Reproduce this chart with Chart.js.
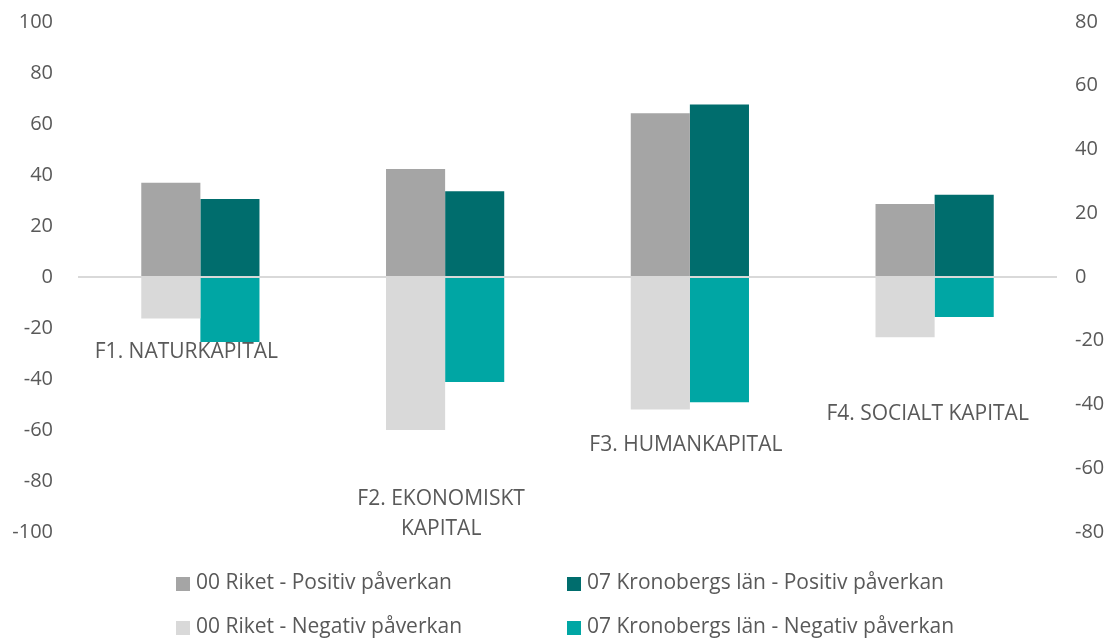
<!DOCTYPE html>
<html>
<head>
<meta charset="utf-8">
<script src="https://cdn.jsdelivr.net/npm/chart.js@4.4.1/dist/chart.umd.min.js"></script>
<style>
  html, body { margin: 0; padding: 0; background: #fff; }
  #wrap { width: 1113px; height: 640px; position: relative; }
</style>
</head>
<body>
<div id="wrap"><canvas id="chart"></canvas></div>
<script>
const categories = ['F1. NATURKAPITAL', 'F2. EKONOMISKT KAPITAL', 'F3. HUMANKAPITAL', 'F4. SOCIALT KAPITAL'];
const riketPositiv = [37.0, 42.4, 64.2, 28.6];
const kronobergPositiv = [30.6, 33.6, 67.6, 32.3];
const riketNegativ = [-16.3, -60.0, -52.0, -23.6];
const kronobergNegativ = [-25.5, -41.2, -49.1, -15.7];
const leftTicks = { min: -100, max: 100, step: 20 };
const rightTicks = { min: -80, max: 80, step: 20 };

const textColor = '#595959';
const fontFamily = '"Open Sans", sans-serif';
const tickSize = 20;
const textSize = 21;

// category text boxes: lines, x offset from category centre (px), y in left-axis units
const catLabels = [
  { lines: ['F1. NATURKAPITAL'], dx: -14, y: -29.5 },
  { lines: ['F2. EKONOMISKT', 'KAPITAL'], dx: -4, y: -87 },
  { lines: ['F3. HUMANKAPITAL'], dx: -4, y: -66 },
  { lines: ['F4. SOCIALT KAPITAL'], dx: -7, y: -53.8 }
];

const catLabelPlugin = {
  id: 'catLabels',
  afterDatasetsDraw(chart) {
    const { ctx, scales } = chart;
    ctx.save();
    ctx.font = textSize + 'px ' + fontFamily;
    ctx.fillStyle = textColor;
    ctx.textAlign = 'center';
    ctx.textBaseline = 'middle';
    catLabels.forEach((l, i) => {
      const x = scales.x.getPixelForValue(i) + l.dx;
      const y = scales.y.getPixelForValue(l.y);
      l.lines.forEach((line, j) => ctx.fillText(line, x, y + j * 30));
    });
    ctx.restore();
  }
};

// two-column legend like the original
const legendPlugin = {
  id: 'gridLegend',
  afterDraw(chart) {
    const { ctx } = chart;
    const cols = [176, 567];
    const rows = [583, 627];
    ctx.save();
    ctx.font = textSize + 'px ' + fontFamily;
    ctx.textBaseline = 'middle';
    ctx.textAlign = 'left';
    chart.data.datasets.forEach((ds, i) => {
      const x = cols[i % 2], y = rows[Math.floor(i / 2)];
      ctx.fillStyle = ds.backgroundColor;
      ctx.fillRect(x, y - 6, 14, 14);
      ctx.fillStyle = textColor;
      ctx.fillText(ds.label, x + 20, y);
    });
    ctx.restore();
  }
};

const fitLeft = s => { s.width = 70; s.paddingTop = 0; s.paddingBottom = 0; };
const fitRight = s => { s.width = 51; s.paddingTop = 0; s.paddingBottom = 0; };

new Chart(document.getElementById('chart'), {
  type: 'bar',
  data: {
    labels: categories,
    datasets: [
      { label: '00 Riket - Positiv påverkan', data: riketPositiv, backgroundColor: '#a5a5a5', stack: 'riket' },
      { label: '07 Kronobergs län - Positiv påverkan', data: kronobergPositiv, backgroundColor: '#006d6d', stack: 'kron' },
      { label: '00 Riket - Negativ påverkan', data: riketNegativ, backgroundColor: '#d9d9d9', stack: 'riket' },
      { label: '07 Kronobergs län - Negativ påverkan', data: kronobergNegativ, backgroundColor: '#00a6a4', stack: 'kron' }
    ]
  },
  options: {
    responsive: true,
    maintainAspectRatio: false,
    animation: false,
    categoryPercentage: 0.483,
    barPercentage: 1,
    layout: { padding: { top: 22, bottom: 108, left: 8, right: 5 } },
    plugins: {
      legend: { display: false },
      tooltip: { enabled: false }
    },
    scales: {
      x: { stacked: true, display: false },
      y: {
        stacked: true,
        min: leftTicks.min,
        max: leftTicks.max,
        afterFit: fitLeft,
        border: { display: false },
        grid: {
          drawTicks: false,
          lineWidth: 2,
          color: c => c.tick && c.tick.value === 0 ? '#d9d9d9' : 'rgba(0,0,0,0)'
        },
        ticks: {
          stepSize: leftTicks.step,
          padding: 25,
          color: textColor,
          font: { family: fontFamily, size: tickSize }
        }
      },
      y2: {
        position: 'right',
        min: rightTicks.min,
        max: rightTicks.max,
        afterFit: fitRight,
        border: { display: false },
        grid: { display: false, drawTicks: false },
        ticks: {
          stepSize: rightTicks.step,
          padding: 18,
          color: textColor,
          font: { family: fontFamily, size: tickSize }
        }
      }
    }
  },
  plugins: [catLabelPlugin, legendPlugin]
});
</script>
</body>
</html>
